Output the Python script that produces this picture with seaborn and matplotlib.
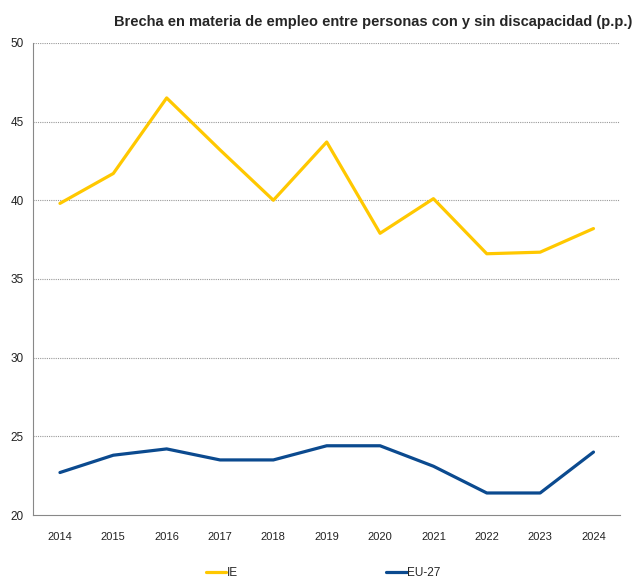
import numpy as np
import pandas as pd
import matplotlib
matplotlib.use('Agg')
import matplotlib.pyplot as plt
import seaborn as sns

# Data
years = ['2014', '2015', '2016', '2017', '2018', '2019', '2020', '2021', '2022', '2023', '2024']
ie = [39.8, 41.7, 46.5, 43.2, 40.0, 43.7, 37.9, 40.1, 36.6, 36.7, 38.2]
eu27 = [22.7, 23.8, 24.2, 23.5, 23.5, 24.4, 24.4, 23.1, 21.4, 21.4, 24.0]
series_names = ['IE', 'EU-27']
series_colors = ['#FFC800', '#0B4A8F']
y_ticks = [20, 25, 30, 35, 40, 45, 50]
title = 'Brecha en materia de empleo entre personas con y sin discapacidad (p.p.)'

df = pd.DataFrame({
    'year': years * 2,
    'pos': list(range(len(years))) * 2,
    'value': ie + eu27,
    'serie': [series_names[0]] * len(years) + [series_names[1]] * len(years),
})

sns.set_style('white')
plt.rcParams['font.family'] = ['Liberation Sans', 'DejaVu Sans']

fig = plt.figure(figsize=(6.4, 5.79), dpi=100)
ax = fig.add_axes([0.052, 0.1105, 0.917, 0.8155])

sns.lineplot(data=df, x='pos', y='value', hue='serie', palette=series_colors,
             linewidth=2.3, ax=ax, legend=False, sort=False)

ax.set_xlim(-0.5, len(years) - 0.5)
ax.set_ylim(20, 50)
ax.set_yticks(y_ticks)
ax.set_yticklabels([str(t) for t in y_ticks], fontsize=8.5, color='#222222')
ax.set_xticks(range(len(years)))
ax.set_xticklabels(years, fontsize=8, color='#222222')
ax.set_xticks(np.arange(-0.5, len(years), 1.0), minor=True)
ax.tick_params(axis='x', which='major', length=0, pad=12)
ax.tick_params(axis='x', which='minor', length=4, color='#888888', direction='out')
ax.tick_params(axis='y', length=0, pad=7)
ax.set_xlabel('')
ax.set_ylabel('')

for t in y_ticks[1:]:
    ax.axhline(t, color='#999999', linestyle=(0, (1, 1)), linewidth=0.8, zorder=0)

for s in ['top', 'right']:
    ax.spines[s].set_visible(False)
for s in ['left', 'bottom']:
    ax.spines[s].set_color('#888888')
    ax.spines[s].set_linewidth(0.8)

fig.text(0.988, 0.962, title, ha='right', va='center', fontsize=10.5, fontweight='bold')

handles = [plt.Line2D([], [], color=c, linewidth=2.3) for c in series_colors]
fig.legend(handles, series_names, loc='center', bbox_to_anchor=(0.505, 0.01), ncol=2,
           frameon=False, handlelength=1.7, handletextpad=0.05, columnspacing=12.6,
           fontsize=8.5)

fig.savefig('out.png', dpi=100)
